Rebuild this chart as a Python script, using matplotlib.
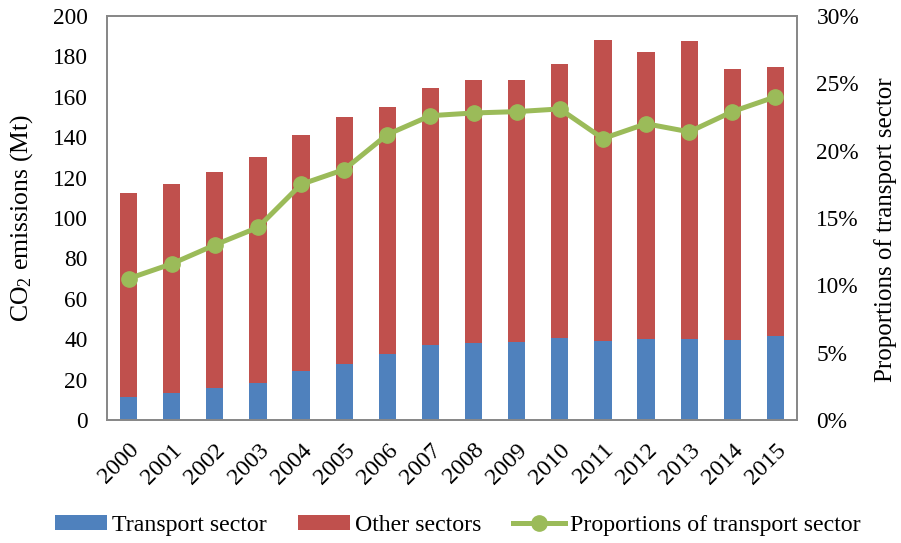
import numpy as np
import matplotlib
matplotlib.use("agg")
import matplotlib.pyplot as plt
from matplotlib.ticker import FuncFormatter

plt.rcParams["font.family"] = ["Liberation Serif", "DejaVu Serif"]
plt.rcParams["mathtext.fontset"] = "custom"
plt.rcParams["mathtext.rm"] = "Liberation Serif"
plt.rcParams["mathtext.it"] = "Liberation Serif:italic"

years = [str(y) for y in range(2000, 2016)]
# values
transport = [11.6, 13.2, 15.7, 18.2, 24.4, 27.7, 32.7, 37.0,
             38.0, 38.5, 40.4, 39.1, 39.9, 39.9, 39.6, 41.6]
total = [112.2, 117.0, 122.6, 130.2, 141.3, 150.2, 155.1, 164.5,
         168.3, 168.3, 176.2, 188.1, 182.0, 187.5, 173.8, 174.6]
other = [t - tr for t, tr in zip(total, transport)]
proportion = [10.5, 11.6, 13.0, 14.3, 17.5, 18.6, 21.2, 22.6,
              22.8, 22.9, 23.1, 20.9, 22.0, 21.4, 22.9, 24.0]

blue = "#4F81BD"
red = "#C0504D"
green = "#9BBB59"
fs = 16.8

fig = plt.figure(figsize=(9.01, 5.43), dpi=100)
ax = fig.add_axes([0.1188, 0.2265, 0.7658, 0.744])
x = np.arange(len(years))

b1 = ax.bar(x, transport, width=0.4, color=blue, label="Transport sector")
b2 = ax.bar(x, other, width=0.4, bottom=transport, color=red, label="Other sectors")
ax.set_xlim(-0.5, len(years) - 0.5)
ax.set_ylim(0, 200)
ax.set_yticks(np.arange(0, 201, 20))
ax.set_xticks(x)
ax.set_xticklabels(years, rotation=45, ha="right", va="top", rotation_mode="anchor")
ax.tick_params(axis="both", length=0, labelsize=fs)
ax.tick_params(axis="x", pad=14, labelsize=17.3)
ax.tick_params(axis="y", pad=14)
ax.set_ylabel("CO$_2$ emissions (Mt)", fontsize=18.5)
ax.yaxis.set_label_coords(-0.105, 0.5)

ax2 = ax.twinx()
ln, = ax2.plot(x, proportion, color=green, lw=3.6, marker="o", ms=11,
               label="Proportions of transport sector")
ax2.set_ylim(0, 30)
ax2.set_yticks(np.arange(0, 31, 5))
ax2.yaxis.set_major_formatter(FuncFormatter(lambda v, p: "%d%%" % v))
ax2.tick_params(axis="y", length=0, labelsize=fs, pad=14)
ax2.set_ylabel("Proportions of transport sector", fontsize=18)
ax2.yaxis.set_label_coords(1.112, 0.47)

for a in (ax, ax2):
    for s in a.spines.values():
        s.set_color("#888888")
        s.set_linewidth(1.3)

fig.legend(handles=[b1, b2, ln], loc="center", bbox_to_anchor=(0.508, 0.032),
           ncol=3, frameon=False, fontsize=17.2, handlelength=2.2,
           handletextpad=0.2, columnspacing=1.3, handleheight=0.55)

fig.savefig("out.png", dpi=100)
